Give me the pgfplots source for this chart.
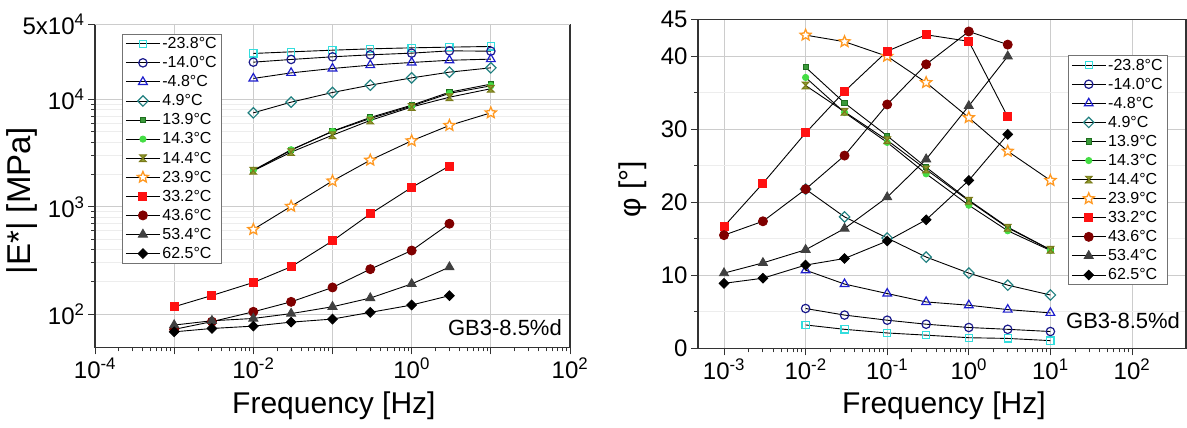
\documentclass[border=0pt]{standalone}
\usepackage{pgfplots}
\pgfplotsset{compat=1.18}
\usepackage{fontspec}
\setmainfont{Liberation Sans}
\definecolor{cA}{HTML}{33DDDD}
\definecolor{cB}{HTML}{1A1A8C}
\definecolor{cC}{HTML}{1E1ECC}
\definecolor{cD}{HTML}{218080}
\definecolor{cE}{HTML}{1E6E1E}
\definecolor{cEf}{HTML}{3A9A3A}
\definecolor{cF}{HTML}{44DD44}
\definecolor{cG}{HTML}{7A7A1A}
\definecolor{cGf}{HTML}{8FA030}
\definecolor{cH}{HTML}{FF9922}
\definecolor{cI}{HTML}{FF1111}
\definecolor{cJ}{HTML}{800000}
\definecolor{cK}{HTML}{404040}
\definecolor{cL}{HTML}{000000}
\pgfdeclareplotmark{star5}{%
  \pgfpathmoveto{\pgfpointpolar{90}{\pgfplotmarksize}}%
  \pgfpathlineto{\pgfpointpolar{126}{0.45\pgfplotmarksize}}%
  \pgfpathlineto{\pgfpointpolar{162}{\pgfplotmarksize}}%
  \pgfpathlineto{\pgfpointpolar{198}{0.45\pgfplotmarksize}}%
  \pgfpathlineto{\pgfpointpolar{234}{\pgfplotmarksize}}%
  \pgfpathlineto{\pgfpointpolar{270}{0.45\pgfplotmarksize}}%
  \pgfpathlineto{\pgfpointpolar{306}{\pgfplotmarksize}}%
  \pgfpathlineto{\pgfpointpolar{342}{0.45\pgfplotmarksize}}%
  \pgfpathlineto{\pgfpointpolar{18}{\pgfplotmarksize}}%
  \pgfpathlineto{\pgfpointpolar{54}{0.45\pgfplotmarksize}}%
  \pgfpathclose
  \pgfusepathqfillstroke}
\pgfdeclareplotmark{hourglass}{%
  \pgfpathmoveto{\pgfqpoint{-\pgfplotmarksize}{\pgfplotmarksize}}%
  \pgfpathlineto{\pgfqpoint{\pgfplotmarksize}{\pgfplotmarksize}}%
  \pgfpathlineto{\pgfqpoint{-\pgfplotmarksize}{-\pgfplotmarksize}}%
  \pgfpathlineto{\pgfqpoint{\pgfplotmarksize}{-\pgfplotmarksize}}%
  \pgfpathclose
  \pgfusepathqfillstroke
  \pgfpathmoveto{\pgfqpoint{-\pgfplotmarksize}{-\pgfplotmarksize}}%
  \pgfpathlineto{\pgfqpoint{\pgfplotmarksize}{\pgfplotmarksize}}%
  \pgfusepathqstroke}
\pgfplotsset{
  common/.style={
    scale only axis, anchor=south west,
    axis line style={draw=black!80, line width=1.2pt},
    tick align=outside, xtick pos=bottom, ytick pos=left,
    major tick length=7pt, minor tick length=4pt,
    tick style={black!80, line width=0.9pt},
    xmajorgrids, ymajorgrids, yminorgrids,
    major grid style={draw=black!20, line width=0.9pt},
    minor grid style={draw=black!7, line width=0.8pt},
    tick label style={font=\fontsize{24}{24}\selectfont},
    every axis plot/.append style={black, line width=0.9pt},
    legend style={draw=black!55, line width=0.8pt, fill=white,
      font=\fontsize{16}{18}\selectfont, inner xsep=3pt, inner ysep=1.5pt,
      row sep=2.4pt, cells={anchor=west}},
    legend image code/.code={\draw[mark repeat=2,mark phase=2,##1] plot coordinates {(0pt,0pt)(17pt,0pt)(34pt,0pt)};},
  },
  sA/.style={mark=square, mark size=3.6, mark options={draw=cA, fill=white, line width=1.2pt}},
  sB/.style={mark=o, mark size=4.2, mark options={draw=cB, fill=white, line width=1.2pt}},
  sC/.style={mark=triangle, mark size=5, mark options={draw=cC, fill=white, line width=1.2pt}},
  sD/.style={mark=square, mark size=3.7, mark options={draw=cD, fill=white, line width=1.2pt, rotate=45}},
  sE/.style={mark=square*, mark size=2.6, mark options={draw=cE, fill=cEf, line width=1pt}},
  sF/.style={mark=*, mark size=3.1, mark options={draw=cF, fill=cF}},
  sG/.style={mark=hourglass, mark size=3.4, mark options={draw=cG, fill=cGf, line width=0.9pt}},
  sH/.style={mark=star5, mark size=5.8, mark options={draw=cH, fill=white, line width=1.3pt}},
  sI/.style={mark=square*, mark size=4, mark options={draw=cI, fill=cI}},
  sJ/.style={mark=*, mark size=4.5, mark options={draw=cJ, fill=cJ}},
  sK/.style={mark=triangle*, mark size=5.2, mark options={draw=cK, fill=cK}},
  sL/.style={mark=square*, mark size=3.4, mark options={draw=cL, fill=cL, rotate=45}},
}
\begin{document}
\begin{tikzpicture}
\useasboundingbox (0pt,0pt) rectangle (1187pt,428pt);
\begin{axis}[common,
  at={(95pt,80.5pt)}, width=475pt, height=323pt,
  xmode=log, ymode=log, xmin=1e-4, xmax=1e2, ymin=48.8, ymax=5e4,
  xtick={1e-4,1e-3,1e-2,1e-1,1,10,100},
  xticklabels={10\textsuperscript{-4},,10\textsuperscript{-2},,10\textsuperscript{0},,10\textsuperscript{2}},
  ytick={100,1000,10000},
  yticklabels={10\textsuperscript{2},10\textsuperscript{3},10\textsuperscript{4}},
  extra y ticks={50000}, extra y tick labels={5x10\textsuperscript{4}},
  xlabel={Frequency [Hz]}, ylabel={|E*| [MPa]},
  xlabel style={font=\fontsize{30}{30}\selectfont, at={(axis description cs:0.503,-0.181)}, anchor=center},
  ylabel style={font=\fontsize{33}{33}\selectfont, at={(axis description cs:-0.154,0.455)}, anchor=center},
  legend style={at={(0.057,0.972)}, anchor=north west},
]
\addplot[sA] coordinates {(0.01,26850)(0.03,27800)(0.1,28800)(0.3,29650)(1,30300)(3,30750)(10,31200)};
\addplot[sB] coordinates {(0.01,22280)(0.03,23600)(0.1,24990)(0.3,26080)(1,27030)(3,28400)(10,28200)};
\addplot[sC] coordinates {(0.01,15700)(0.03,17700)(0.1,19450)(0.3,20900)(1,22130)(3,23200)(10,23770)};
\addplot[sD] coordinates {(0.01,7510)(0.03,9440)(0.1,11620)(0.3,13600)(1,15900)(3,17980)(10,19730)};
\addplot[sE] coordinates {(0.01,2165)(0.03,3370)(0.1,5070)(0.3,6800)(1,8850)(3,11700)(10,13900)};
\addplot[sF] coordinates {(0.01,2190)(0.03,3400)(0.1,5030)(0.3,6650)(1,8680)(3,11400)(10,13400)};
\addplot[sG] coordinates {(0.01,2165)(0.03,3230)(0.1,4650)(0.3,6380)(1,8510)(3,10500)(10,12600)};
\addplot[sH] coordinates {(0.01,615)(0.03,1010)(0.1,1740)(0.3,2720)(1,4120)(3,5730)(10,7510)};
\addplot[sI] coordinates {(0.001,117)(0.003,149)(0.01,197)(0.03,276)(0.1,481)(0.3,858)(1,1515)(3,2400)};
\addplot[sJ] coordinates {(0.001,72)(0.003,85)(0.01,105)(0.03,130)(0.1,177)(0.3,262)(1,391)(3,695)};
\addplot[sK] coordinates {(0.001,79)(0.003,86.6)(0.01,91)(0.03,101)(0.1,117)(0.3,141)(1,191)(3,274)};
\addplot[sL] coordinates {(0.001,68.3)(0.003,73.4)(0.01,77.2)(0.03,84.1)(0.1,89.8)(0.3,103.7)(1,121.4)(3,148.5)};
\legend{-23.8°C,-14.0°C,-4.8°C,4.9°C,13.9°C,14.3°C,14.4°C,23.9°C,33.2°C,43.6°C,53.4°C,62.5°C}
\node[font=\fontsize{22}{22}\selectfont] at (rel axis cs:0.863,0.063) {GB3-8.5\%d};
\end{axis}
\begin{axis}[common,
  at={(698pt,79.7pt)}, width=488pt, height=328.5pt,
  xmode=log, xmin=4.8e-4, xmax=459, ymin=0, ymax=45,
  xtick={1e-3,1e-2,1e-1,1,10,100},
  xticklabels={10\textsuperscript{-3},10\textsuperscript{-2},10\textsuperscript{-1},10\textsuperscript{0},10\textsuperscript{1},10\textsuperscript{2}},
  ytick={0,10,20,30,40,45}, yticklabels={0,10,20,30,40,45},
  minor ytick={5,15,25,35},
  xlabel={Frequency [Hz]}, ylabel={φ [°]},
  xlabel style={font=\fontsize{30}{30}\selectfont, at={(axis description cs:0.504,-0.174)}, anchor=center},
  ylabel style={font=\fontsize{30}{30}\selectfont, at={(axis description cs:-0.133,0.485)}, anchor=center},
  legend style={at={(0.758,0.893)}, anchor=north west},
]
\addplot[sA] coordinates {(0.01,3.2)(0.03,2.6)(0.1,2.1)(0.3,1.8)(1,1.45)(3,1.35)(10,1.05)};
\addplot[sB] coordinates {(0.01,5.45)(0.03,4.55)(0.1,3.85)(0.3,3.3)(1,2.85)(3,2.6)(10,2.3)};
\addplot[sC] coordinates {(0.01,10.7)(0.03,8.8)(0.1,7.5)(0.3,6.35)(1,5.9)(3,5.3)(10,4.85)};
\addplot[sD] coordinates {(0.01,21.8)(0.03,18.0)(0.1,15.1)(0.3,12.5)(1,10.3)(3,8.65)(10,7.3)};
\addplot[sE] coordinates {(0.01,38.5)(0.03,33.6)(0.1,29.1)(0.3,24.8)(1,20.3)(3,16.6)(10,13.5)};
\addplot[sF] coordinates {(0.01,37.1)(0.03,32.3)(0.1,28.2)(0.3,23.9)(1,19.6)(3,16.1)(10,13.4)};
\addplot[sG] coordinates {(0.01,36.0)(0.03,32.4)(0.1,28.5)(0.3,24.5)(1,20.2)(3,16.5)(10,13.5)};
\addplot[sH] coordinates {(0.01,42.9)(0.03,42.0)(0.1,40.0)(0.3,36.4)(1,31.6)(3,27.0)(10,23.0)};
\addplot[sI] coordinates {(0.001,16.7)(0.003,22.6)(0.01,29.5)(0.03,35.2)(0.1,40.7)(0.3,42.95)(1,42.05)(3,31.7)};
\addplot[sJ] coordinates {(0.001,15.5)(0.003,17.4)(0.01,21.8)(0.03,26.4)(0.1,33.4)(0.3,38.9)(1,43.4)(3,41.6)};
\addplot[sK] coordinates {(0.001,10.3)(0.003,11.7)(0.01,13.5)(0.03,16.4)(0.1,20.7)(0.3,25.9)(1,33.2)(3,40.0)};
\addplot[sL] coordinates {(0.001,8.9)(0.003,9.6)(0.01,11.4)(0.03,12.3)(0.1,14.7)(0.3,17.6)(1,23.0)(3,29.3)};
\legend{-23.8°C,-14.0°C,-4.8°C,4.9°C,13.9°C,14.3°C,14.4°C,23.9°C,33.2°C,43.6°C,53.4°C,62.5°C}
\node[font=\fontsize{22}{22}\selectfont] at (rel axis cs:0.871,0.083) {GB3-8.5\%d};
\end{axis}
\end{tikzpicture}
\end{document}
